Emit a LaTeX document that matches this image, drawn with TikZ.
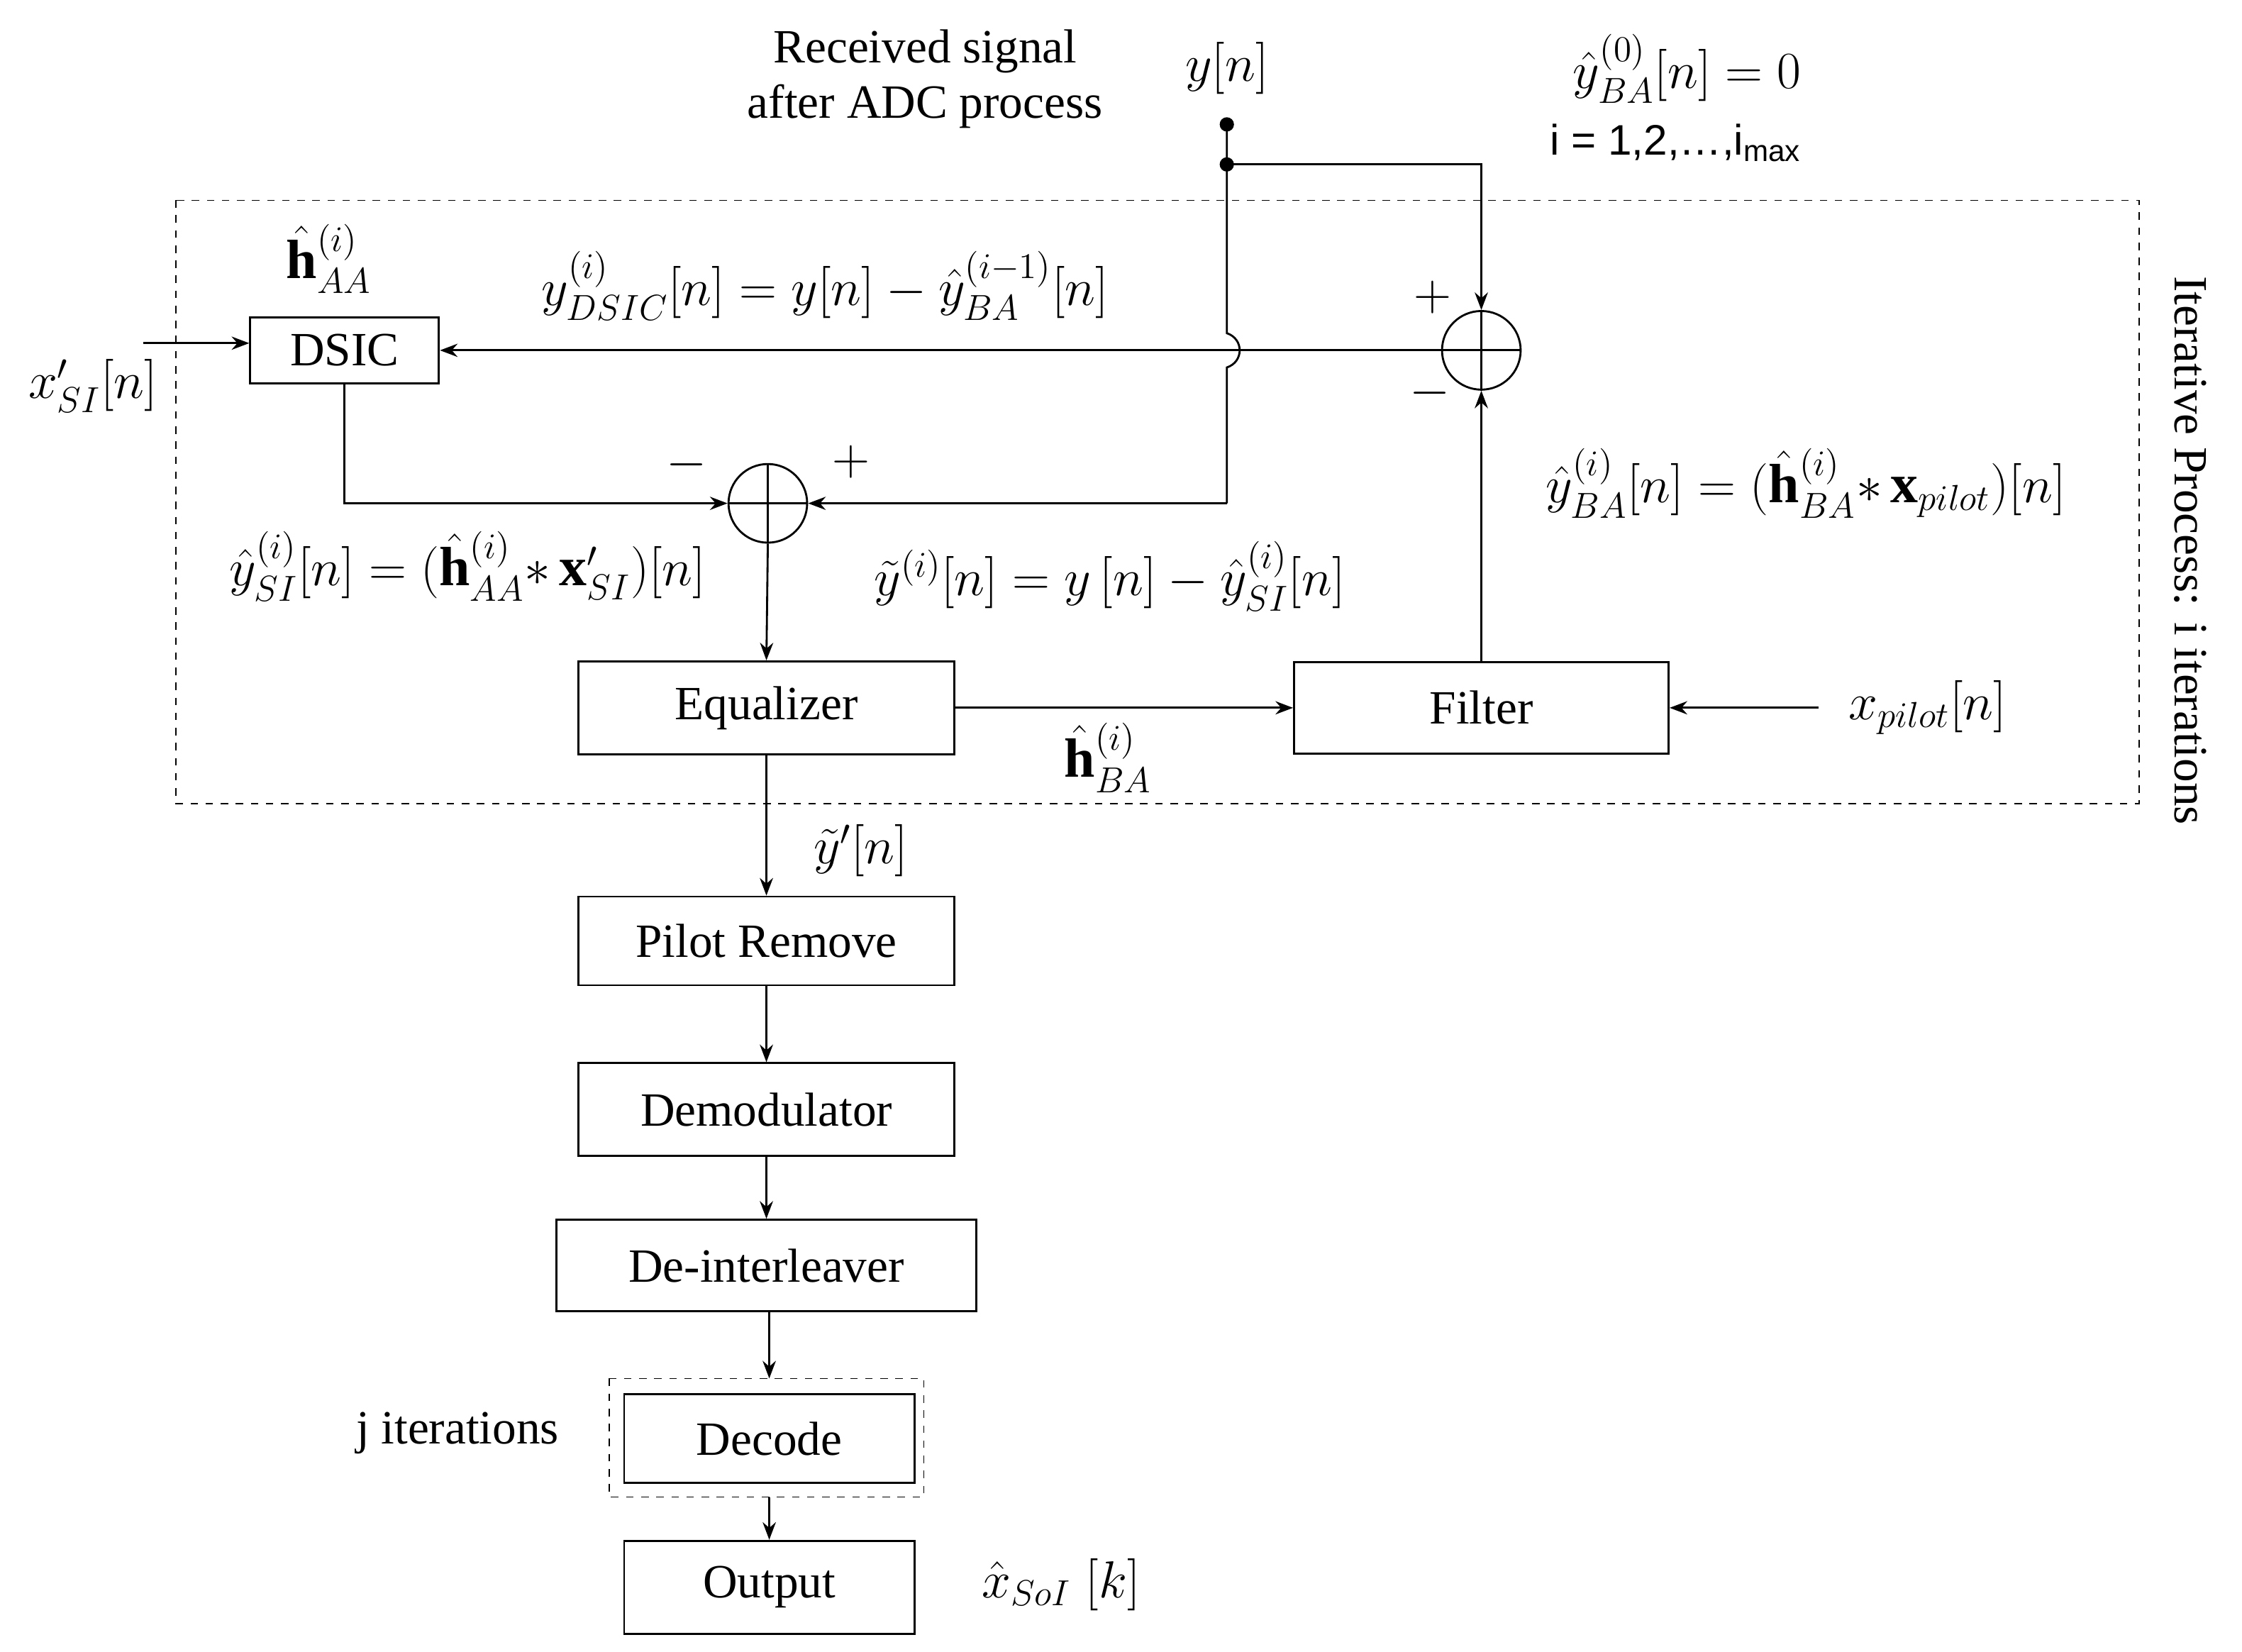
\documentclass[tikz,border=0pt]{standalone}
\usepackage{amsmath}
\usepackage{bm}
\usepackage{fontspec}
\setmainfont{Liberation Serif}
\newfontfamily\sansf{Liberation Sans}
\usetikzlibrary{calc}
\usetikzlibrary{arrows.meta}
\usetikzlibrary{positioning}
\begin{document}
\begin{tikzpicture}[x=0.02cm,y=-0.02cm,
  blk/.style={draw,thick,minimum height=1.25cm,font=\fontsize{19}{22}\selectfont},
  sumc/.style={draw,thick,circle,minimum size=1.1cm,inner sep=0pt},
  lbl/.style={font=\fontsize{19}{22}\selectfont,inner sep=1pt},
  mlbl/.style={font=\fontsize{22}{24}\selectfont,inner sep=1pt},
  arr/.style={-{Stealth[length=7pt]},thick}]
\useasboundingbox (0,0) rectangle (1568,1155);
% Iterative process frame
\draw[dashed] (123,140) rectangle (1496,562);
\node[lbl,rotate=-90] at (1532,385) {Iterative Process: i iterations};
% Blocks
\node[blk,minimum width=2.64cm,minimum height=0.92cm] (dsic) at (241,245) {DSIC};
\node[blk,minimum width=5.26cm,minimum height=1.3cm] (eq) at (536,495) {Equalizer};
\node[blk,minimum width=5.24cm,minimum height=1.28cm] (filt) at (1036,495) {Filter};
\node[blk,minimum width=5.26cm,minimum height=1.24cm] (pilot) at (536,658) {Pilot Remove};
\node[blk,minimum width=5.26cm,minimum height=1.3cm] (demod) at (536,776) {Demodulator};
\node[blk,minimum width=5.88cm,minimum height=1.28cm] (deint) at (536,885) {De-interleaver};
\node[blk,minimum width=4.06cm,minimum height=1.24cm] (dec) at (538,1006) {Decode};
\draw[dashed] (426,964) rectangle (646,1047);
\node[blk,minimum width=4.06cm,minimum height=1.3cm] (out) at (538,1110) {Output};
% Summing junctions
\node[sumc] (s1) at (1036,245) {};
\draw[thick] (s1.north) -- (s1.south) (s1.west) -- (s1.east);
\node[sumc] (s2) at (537,352) {};
\draw[thick] (s2.north) -- (s2.south) (s2.west) -- (s2.east);
% Input
\node[mlbl,anchor=south] (yn) at (858,68) {$y[n]$};
\node[lbl,align=center] (rx) at (647,55) {Received signal\\after ADC process};
\fill (858,87) circle (5) coordinate (d1);
\fill (858,115) circle (5) coordinate (d2);
\coordinate (jt) at (858,233);
\coordinate (jb) at (858,257);
\coordinate (c2) at (858,352);
\draw[thick] (d1) -- (d2) -- (jt) .. controls (870,237) and (870,253) .. (jb) -- (c2);
\draw[arr] (c2) -- (s2.east);
\draw[arr] (d2) -| (s1.north);
% Loops
\draw[arr] (s1.west) -- (dsic.east);
\draw[arr] (dsic.south) |- (s2.west);
\draw[arr] (s2.south) -- (eq.north);
\draw[arr] (eq.east) -- (filt.west);
\draw[arr] (filt.north) -- (s1.south);
\coordinate (xin) at (100,240);
\coordinate (pin) at (1272,495);
\coordinate (dt) at (538,964);
\coordinate (db) at (538,1047);
\draw[arr] (xin) -- (xin -| dsic.west);
\draw[arr] (pin) -- (filt.east);
\draw[arr] (eq.south) -- (pilot.north);
\draw[arr] (pilot.south) -- (demod.north);
\draw[arr] (demod.south) -- (deint.north);
\draw[arr] (deint.south -| dt) -- (dt);
\draw[arr] (db) -- (out.north);
% Labels
\node[mlbl] at (1180,48) {$\hat{y}^{(0)}_{BA}[n]=0$};
\node[lbl,anchor=west] at (1082,100) {\sansf\fontsize{17}{19}\selectfont i = 1,2,\ldots,i\textsubscript{max}};
\node[mlbl] at (230,181) {$\hat{\mathbf{h}}^{(i)}_{AA}$};
\node[mlbl] at (65,270) {$x'_{SI}[n]$};
\node[mlbl] at (577,200) {$y^{(i)}_{DSIC}[n]=y[n]-\hat{y}^{(i-1)}_{BA}[n]$};
\node[mlbl] at (1002,208) {$+$};
\node[mlbl] at (1000,275) {$-$};
\node[mlbl] at (480,325) {$-$};
\node[mlbl] at (595,323) {$+$};
\node[mlbl] at (327,396) {$\hat{y}^{(i)}_{SI}[n]=(\hat{\mathbf{h}}^{(i)}_{AA}{*}\,\mathbf{x}'_{SI})[n]$};
\node[mlbl] at (776,403) {$\tilde{y}^{(i)}[n]=y\,[n]-\hat{y}^{(i)}_{SI}[n]$};
\node[mlbl] at (1263,338) {$\hat{y}^{(i)}_{BA}[n]=(\hat{\mathbf{h}}^{(i)}_{BA}{*}\,\mathbf{x}_{pilot})[n]$};
\node[mlbl] at (1348,495) {$x_{pilot}[n]$};
\node[mlbl] at (775,530) {$\hat{\mathbf{h}}^{(i)}_{BA}$};
\node[mlbl] at (602,595) {$\tilde{y}'[n]$};
\node[lbl] at (320,1002) {j iterations};
\node[mlbl] at (742,1108) {$\hat{x}_{SoI}\;[k]$};
\end{tikzpicture}
\end{document}
